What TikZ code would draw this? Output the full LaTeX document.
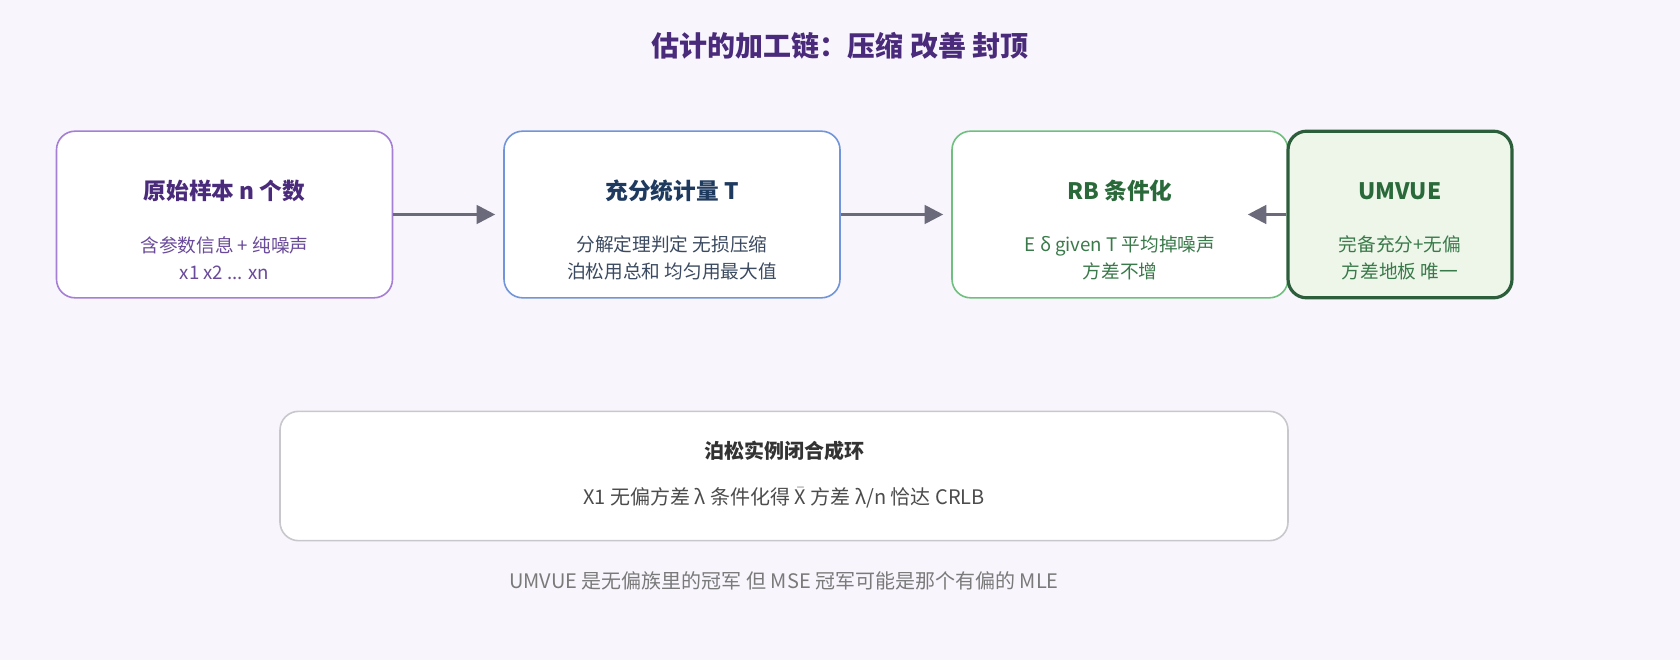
\documentclass[tikz,border=0pt]{standalone}
\usepackage{fontspec}
\setmainfont{Noto Sans CJK SC}
\usetikzlibrary{positioning,arrows.meta}
\definecolor{bgc}{HTML}{F8F5FC}
\definecolor{ttl}{HTML}{4A2A7A}
\definecolor{pbord}{HTML}{A57FD6}
\definecolor{ptxt}{HTML}{6A4A9A}
\definecolor{bbord}{HTML}{7095DA}
\definecolor{btl}{HTML}{1F3A5F}
\definecolor{btxt}{HTML}{3B4A60}
\definecolor{gbord}{HTML}{6FC07E}
\definecolor{gtl}{HTML}{2A6A3A}
\definecolor{gtxt}{HTML}{3A7A4A}
\definecolor{dgbord}{HTML}{2D5E3C}
\definecolor{dgfill}{HTML}{EEF6EA}
\definecolor{arr}{HTML}{6B6A7B}
\definecolor{gbox}{HTML}{C8C8CC}
\definecolor{foot}{HTML}{7A7A7A}
\tikzset{
  box/.style={draw, line width=1.2pt, rounded corners=14pt, fill=white, minimum height=125pt},
  head/.style={font=\bfseries\fontsize{17}{20}\selectfont},
  body/.style={font=\fontsize{14}{20}\selectfont, align=center},
  link/.style={draw=arr, line width=2.2pt, -{Triangle[length=14pt,width=14pt]}},
}
\begin{document}
\begin{tikzpicture}[x=0.75pt,y=-0.75pt]
  \fill[bgc] (0,0) rectangle (1680,660);
  \node[font=\bfseries\fontsize{21}{24}\selectfont, text=ttl] (title) at (840,46) {估计的加工链：压缩 改善 封顶};

  % chain boxes
  \node[box, draw=pbord, minimum width=252pt] (raw) at (224.5,214.5) {};
  \node[box, draw=bbord, minimum width=252pt] (suf) at (672,214.5) {};
  \node[box, draw=gbord, minimum width=252pt] (rb) at (1120,214.5) {};
  \node[box, draw=dgbord, fill=dgfill, line width=2.4pt, minimum width=168pt] (umv) at (1400,214.5) {};

  \node[head, text=ttl] (rawh) at (224.5,191) {原始样本 n 个数};
  \node[body, text=ptxt] (rawb) at (224.5,258) {含参数信息 + 纯噪声\\x1 x2 ... xn};
  \node[head, text=btl] (sufh) at (672,191) {充分统计量 T};
  \node[body, text=btxt] (sufb) at (672,258) {分解定理判定 无损压缩\\泊松用总和 均匀用最大值};
  \node[head, text=gtl] (rbh) at (1120,191) {RB 条件化};
  \node[body, text=gtxt] (rbb) at (1120,258) {E δ given T 平均掉噪声\\方差不增};
  \node[head, text=gtl] (umvh) at (1400,191) {UMVUE};
  \node[body, text=gtxt] (umvb) at (1400,258) {完备充分+无偏\\方差地板 唯一};

  \coordinate (back) at ([xshift=-29pt]umv.west);
  \draw[link] (raw.east) -- ([xshift=-6pt]suf.west);
  \draw[link] (suf.east) -- ([xshift=-6pt]rb.west);
  \draw[link] (umv.west) -- (back);

  % poisson example
  \node[box, draw=gbox, minimum width=756pt, minimum height=97pt] (poi) at (784,476) {};
  \node[head, text=black!80, font=\bfseries\fontsize{15}{18}\selectfont] (poih) at (784,451) {泊松实例闭合成环};
  \node[body, text=black!70, font=\fontsize{15}{18}\selectfont] (poib) at (784,498) {X1 无偏方差 λ 条件化得 $\bar{\mathrm{X}}$ 方差 λ/n 恰达 CRLB};

  \node[text=foot, font=\fontsize{15}{18}\selectfont] (note) at (784,581) {UMVUE 是无偏族里的冠军 但 MSE 冠军可能是那个有偏的 MLE};

  \pgfresetboundingbox
  \useasboundingbox (0,0) rectangle (1680,660);
\end{tikzpicture}
\end{document}
